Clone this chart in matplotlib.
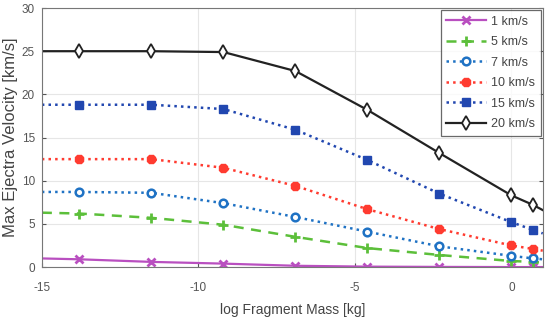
import matplotlib
matplotlib.use("Agg")
import matplotlib.pyplot as plt
import numpy as np

plt.rcParams['font.family'] = ['Liberation Sans', 'DejaVu Sans']
plt.rcParams['axes.unicode_minus'] = False

# x positions: ln(mass) with line extended to axes edges
x = [-15, -13.8, -11.5, -9.2, -6.9, -4.6, -2.3, 0.0, 0.69, 1.0]
v1 = [1.0, 0.9, 0.6, 0.4, 0.15, 0.05, 0.02, 0.0, 0.0, 0.0]
v5 = [6.3, 6.2, 5.7, 4.9, 3.5, 2.2, 1.4, 0.7, 0.6, 0.55]
v7 = [8.7, 8.7, 8.6, 7.4, 5.8, 4.1, 2.4, 1.3, 1.0, 0.9]
v10 = [12.5, 12.5, 12.5, 11.5, 9.4, 6.7, 4.4, 2.5, 2.1, 1.9]
v15 = [18.8, 18.8, 18.8, 18.3, 15.9, 12.4, 8.5, 5.2, 4.3, 3.9]
v20 = [25.0, 25.0, 25.0, 24.9, 22.7, 18.2, 13.2, 8.3, 7.2, 6.6]
labels = ['1 km/s', '5 km/s', '7 km/s', '10 km/s', '15 km/s', '20 km/s']

fig = plt.figure(figsize=(5.51, 3.21), dpi=100)
ax = fig.add_axes([0.076, 0.168, 0.909, 0.807])

mk = list(range(1, 9))
ax.plot(x, v1, color='#b94fc0', ls='-', lw=1.6, marker='x', ms=5.5, mew=2, markevery=mk, label=labels[0])
ax.plot(x, v5, color='#5cbf3a', ls=(0, (4, 3)), lw=1.8, marker='+', ms=7, mew=2, markevery=mk, label=labels[1])
ax.plot(x, v7, color='#1f72c4', ls=':', lw=1.8, marker='o', ms=5.5, mew=1.8, mfc='white', markevery=mk, label=labels[2])
ax.plot(x, v10, color='#ff3b30', ls=':', lw=1.8, marker='8', ms=6.5, mew=1, mfc='#ff3b30', markevery=mk, label=labels[3])
ax.plot(x, v15, color='#2147b0', ls=':', lw=1.8, marker='s', ms=5.5, mew=1, mfc='#2147b0', markevery=mk, label=labels[4])
ax.plot(x, v20, color='#222222', ls='-', lw=1.6, marker='d', ms=7.5, mew=1.3, mfc='white', markevery=mk, label=labels[5])

ax.set_xlim(-15, 1)
ax.set_ylim(0, 30)
ax.set_xticks([-15, -10, -5, 0])
ax.set_yticks([0, 5, 10, 15, 20, 25, 30])
ax.grid(True, color='#e6e6e6', lw=0.8)
ax.set_axisbelow(True)
ax.tick_params(direction='in', length=3, colors='#555555', labelsize=8.5, top=False, right=True)
ax.tick_params(axis='x', pad=11)
ax.tick_params(axis='y', pad=5)
for s in ax.spines.values():
    s.set_color('#777777')
    s.set_linewidth(0.8)
ax.set_xlabel('log Fragment Mass [kg]', fontsize=10, color='#444444', labelpad=6)
ax.set_ylabel('Max Ejectra Velocity [km/s]', fontsize=12, color='#444444', labelpad=3)

leg = ax.legend(loc='upper right', fontsize=9, frameon=True, fancybox=False,
                edgecolor='#444444', handlelength=3.2, borderpad=0.45, labelspacing=0.68,
                borderaxespad=0.15, handletextpad=0.4)
leg.get_frame().set_linewidth(0.9)
for t in leg.get_texts():
    t.set_color('#444444')

fig.savefig('out.png', dpi=100)
